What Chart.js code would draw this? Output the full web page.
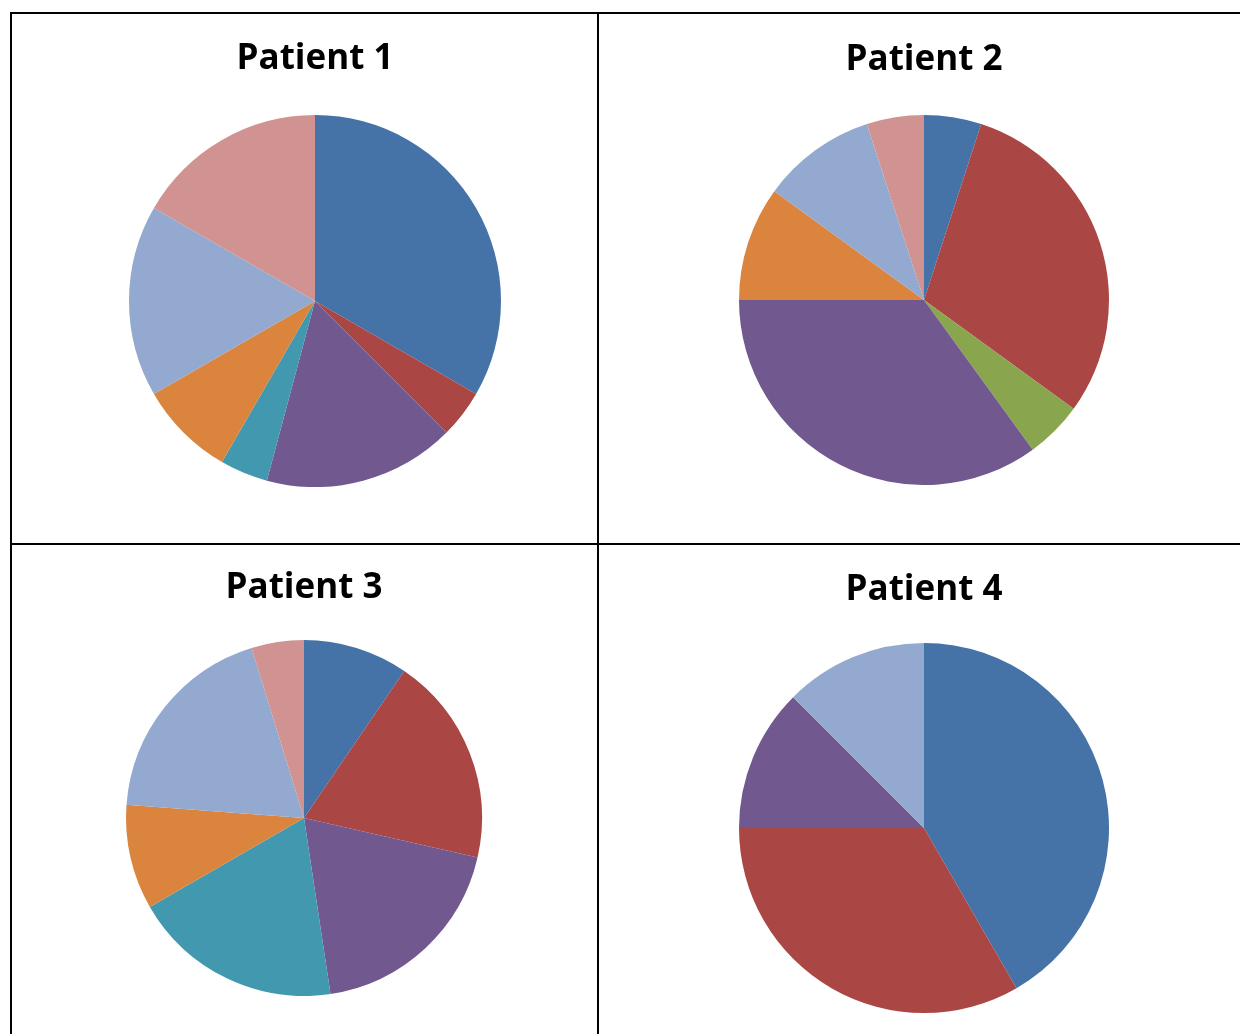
<!DOCTYPE html>
<html>
<head>
<meta charset="utf-8">
<script src="https://cdn.jsdelivr.net/npm/chart.js@4.4.1/dist/chart.umd.min.js"></script>
<style>
  html, body { margin: 0; padding: 0; background: #fff; }
  body { width: 1240px; height: 1034px; position: relative; overflow: hidden; }
  .line { position: absolute; background: #000; }
  canvas { position: absolute; }
</style>
</head>
<body>
<div class="line" style="left:10px;top:12px;width:1240px;height:2px"></div>
<div class="line" style="left:10px;top:543px;width:1240px;height:2px"></div>
<div class="line" style="left:10px;top:12px;width:2px;height:1040px"></div>
<div class="line" style="left:597px;top:12px;width:2px;height:1040px"></div>

<canvas id="chart1"></canvas>
<canvas id="chart2"></canvas>
<canvas id="chart3"></canvas>
<canvas id="chart4"></canvas>

<script>
// data (shares per category, in category order)
let categories = ["Category 1", "Category 2", "Category 3", "Category 4", "Category 5", "Category 6", "Category 7", "Category 8"];
let patient1 = [8, 1, 0, 4, 1, 2, 4, 4];
let patient2 = [1, 6, 1, 7, 0, 2, 2, 1];
let patient3 = [2, 4, 0, 4, 4, 2, 4, 1];
let patient4 = [10, 8, 0, 3, 0, 0, 3, 0];
let titles = ["Patient 1", "Patient 2", "Patient 3", "Patient 4"];

let colors = ["#4572A7", "#AA4643", "#89A54E", "#71588F", "#4198AF", "#DB843D", "#93A9CF", "#D19392"];

// where each pie sits: centre x, centre y, radius, title centre y
let spots = [
    { cx: 315, cy: 301, r: 186, ty: 59 },
    { cx: 924, cy: 300, r: 185, ty: 60 },
    { cx: 304, cy: 818, r: 178, ty: 588 },
    { cx: 924, cy: 828, r: 185, ty: 590 }
];

let allData = [patient1, patient2, patient3, patient4];
let fontSize = 35;
let lineH = fontSize * 1.2;

for (let i = 0; i < 4; i++) {
    let s = spots[i];
    let padBottom = (s.cy - s.r) - s.ty - lineH / 2;
    let top = s.ty - lineH / 2;
    let w = 2 * s.r + 40;
    let h = (s.cy + s.r) - top;

    let cv = document.getElementById("chart" + (i + 1));
    cv.width = w;
    cv.height = h;
    cv.style.left = (s.cx - w / 2) + "px";
    cv.style.top = top + "px";

    new Chart(cv, {
        type: "pie",
        data: {
            labels: categories,
            datasets: [{
                data: allData[i],
                backgroundColor: colors,
                borderWidth: 0
            }]
        },
        options: {
            responsive: false,
            animation: false,
            plugins: {
                legend: { display: false },
                tooltip: { enabled: false },
                title: {
                    display: true,
                    text: titles[i],
                    color: "#000",
                    font: { family: "'Open Sans', sans-serif", size: fontSize, weight: "bold", lineHeight: 1.2 },
                    padding: { top: 0, bottom: padBottom }
                }
            }
        }
    });
}
</script>
</body>
</html>
